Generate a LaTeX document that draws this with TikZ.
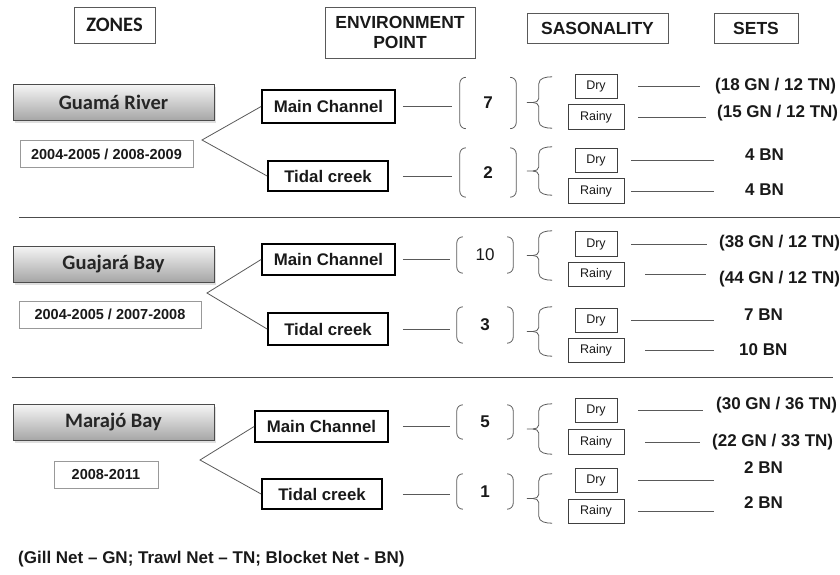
\documentclass[tikz,border=0pt]{standalone}
\usepackage{fontspec}
\setmainfont{Liberation Sans}
\newfontfamily\zonefont{Carlito}
\usetikzlibrary{shadows}
\newcommand\fs[1]{\fontsize{#1}{#1}\selectfont}
\newcommand\parpair[1]{%
  \draw[brk] ([xshift=6pt]#1.north west) to[out=180,in=90] ([yshift=-6pt]#1.north west) -- ([yshift=6pt]#1.south west) to[out=-90,in=180] ([xshift=6pt]#1.south west);
  \draw[brk] ([xshift=-6pt]#1.north east) to[out=0,in=90] ([yshift=-6pt]#1.north east) -- ([yshift=6pt]#1.south east) to[out=-90,in=0] ([xshift=-6pt]#1.south east);}
\newcommand\setbrace[1]{%
  \draw[brk] (#1.north east) to[out=180,in=90] ([xshift=12pt,yshift=-7pt]#1.north west) -- ([xshift=12pt,yshift=4pt]#1.west) to[out=-90,in=0] ([xshift=6pt]#1.west) -- (#1.west);
  \draw[brk] (#1.south east) to[out=180,in=-90] ([xshift=12pt,yshift=7pt]#1.south west) -- ([xshift=12pt,yshift=-4pt]#1.west) to[out=90,in=0] ([xshift=6pt]#1.west);}
\tikzset{
 hdr/.style={draw=black!65, line width=0.9pt, inner sep=0, font=\bfseries\fs{17.5}, text=black!90},
 zone/.style={draw=black!70, line width=0.8pt, top color=black!4, bottom color=black!35, minimum width=201pt, minimum height=36pt, inner sep=0, font=\zonefont\bfseries\fs{20.5}, text=black!85, drop shadow={shadow xshift=1.5pt, shadow yshift=-2.5pt, opacity=0.25}},
 dates/.style={draw=black!40, line width=0.7pt, minimum height=27pt, inner sep=0, font=\bfseries\fs{14.5}, text=black!90},
 env/.style={draw=black, line width=1.8pt, inner sep=0, font=\bfseries\fs{16.8}, text=black!90},
 num/.style={minimum width=56pt, inner sep=0, font=\bfseries\fs{17}, text=black!90},
 bracenode/.style={minimum width=25pt, inner sep=0},
 season/.style={draw=black!75, line width=0.8pt, minimum height=24.5pt, inner sep=0, font=\fs{12.5}, text=black!90},
 dry/.style={season, minimum width=42pt},
 rainy/.style={season, minimum width=56pt},
 setlbl/.style={anchor=west, inner sep=0, font=\bfseries\fs{17}, text=black!90},
 conn/.style={draw=black!65, line width=0.8pt},
 brk/.style={draw=black!65, line width=0.8pt},
 sep/.style={draw=black!70, line width=0.9pt},
}
\begin{document}
\begin{tikzpicture}[x=1pt,y=-1pt]
\useasboundingbox (0,0) rectangle (840,575);
% headers
\node[hdr, minimum width=81pt, minimum height=36pt, font=\zonefont\bfseries\fs{20.5}] (hz) at (114.5,25) {ZONES};
\node[hdr, minimum width=150pt, minimum height=51pt, align=center, font=\bfseries\fontsize{17.5}{20}\selectfont] (he) at (400,32.5) {ENVIRONMENT\\POINT};
\node[hdr, minimum width=141pt, minimum height=30pt] (hs) at (597.5,28) {SASONALITY};
\node[hdr, minimum width=84pt, minimum height=30pt] (ht) at (756,28) {SETS};

% ---------- zone 1
\node[zone] (Z1) at (113.5,102.5) {Guamá River};
\node[dates, minimum width=173pt] (D1) at (106.5,154) {2004-2005 / 2008-2009};
\coordinate (j1) at (202,140);
\node[env, minimum width=133pt, minimum height=33pt] (M1) at (328.5,106.5) {Main Channel};
\node[env, minimum width=120pt, minimum height=30pt] (T1) at (328,176) {Tidal creek};
\draw[conn] (M1.west) -- (j1) -- (T1.west);
\node[num, minimum height=51pt] (pm1) at (488,103) {7};
\node[num, minimum height=49pt] (pt1) at (488,172.5) {2};
\parpair{pm1}\parpair{pt1}
\draw[conn, shorten <=7pt, shorten >=8pt] (M1.east) -- (M1.east -| pm1.west);
\draw[conn, shorten <=14pt, shorten >=8pt] (T1.east) -- (T1.east -| pt1.west);
\node[bracenode, minimum height=51pt] (bm1) at (539.5,102.5) {};
\node[bracenode, minimum height=48pt] (bt1) at (539.5,171) {};
\setbrace{bm1}\setbrace{bt1}
\node[dry] (sd1) at (596,86.5) {Dry};
\node[rainy] (sr1) at (596,117) {Rainy};
\node[dry] (td1) at (596,160.5) {Dry};
\node[rainy] (tr1) at (596,191) {Rainy};
\node[setlbl] (L1a) at (715,86) {(18 GN / 12 TN)};
\node[setlbl] (L1b) at (717,113) {(15 GN / 12 TN)};
\node[setlbl] (L1c) at (745,155) {4 BN};
\node[setlbl] (L1d) at (745,190) {4 BN};
\draw[conn, shorten <=21pt, shorten >=15pt] (sd1.east) -- (sd1.east -| L1a.west);
\draw[conn, shorten <=14pt, shorten >=11pt] (sr1.east) -- (sr1.east -| L1b.west);
\draw[conn, shorten <=14pt, shorten >=31pt] (td1.east) -- (td1.east -| L1c.west);
\draw[conn, shorten <=7pt, shorten >=31pt] (tr1.east) -- (tr1.east -| L1d.west);

\draw[sep] (19,217) -- (840,217);

% ---------- zone 2
\node[zone] (Z2) at (113.5,264) {Guajará Bay};
\node[dates, minimum width=182pt] (D2) at (110,314.5) {2004-2005 / 2007-2008};
\coordinate (j2) at (207,293);
\node[env, minimum width=133pt, minimum height=31pt] (M2) at (328.5,259.5) {Main Channel};
\node[env, minimum width=120pt, minimum height=32pt] (T2) at (328,329) {Tidal creek};
\draw[conn] (M2.west) -- (j2) -- (T2.west);
\node[num, minimum height=36pt, font=\fs{17}] (pm2) at (485,255) {10};
\node[num, minimum height=36pt] (pt2) at (485,325) {3};
\parpair{pm2}\parpair{pt2}
\draw[conn, shorten <=7pt, shorten >=7pt] (M2.east) -- (M2.east -| pm2.west);
\draw[conn, shorten <=14pt, shorten >=7pt] (T2.east) -- (T2.east -| pt2.west);
\node[bracenode, minimum height=49pt] (bm2) at (539.5,255.5) {};
\node[bracenode, minimum height=49pt] (bt2) at (539.5,331.5) {};
\setbrace{bm2}\setbrace{bt2}
\node[dry] (sd2) at (596,244) {Dry};
\node[rainy] (sr2) at (596,274.5) {Rainy};
\node[dry] (td2) at (596,320.5) {Dry};
\node[rainy] (tr2) at (596,350.5) {Rainy};
\node[setlbl] (L2a) at (719,243) {(38 GN / 12 TN)};
\node[setlbl] (L2b) at (719,279) {(44 GN / 12 TN)};
\node[setlbl] (L2c) at (744,315) {7 BN};
\node[setlbl] (L2d) at (739,350) {10 BN};
\draw[conn, shorten <=14pt, shorten >=12pt] (sd2.east) -- (sd2.east -| L2a.west);
\draw[conn, shorten <=21pt, shorten >=13pt] (sr2.east) -- (sr2.east -| L2b.west);
\draw[conn, shorten <=14pt, shorten >=30pt] (td2.east) -- (td2.east -| L2c.west);
\draw[conn, shorten <=21pt, shorten >=25pt] (tr2.east) -- (tr2.east -| L2d.west);

\draw[sep] (12,377) -- (833,377);

% ---------- zone 3
\node[zone] (Z3) at (113.5,422.5) {Marajó Bay};
\node[dates, minimum width=104pt] (D3) at (106,474.5) {2008-2011};
\coordinate (j3) at (200,460);
\node[env, minimum width=133pt, minimum height=31pt] (M3) at (321.5,426.5) {Main Channel};
\node[env, minimum width=120pt, minimum height=30pt] (T3) at (322,494) {Tidal creek};
\draw[conn] (M3.west) -- (j3) -- (T3.west);
\node[num, minimum height=34pt] (pm3) at (485,422) {5};
\node[num, minimum height=35pt] (pt3) at (485,491.5) {1};
\parpair{pm3}\parpair{pt3}
\draw[conn, shorten <=14pt, shorten >=7pt] (M3.east) -- (M3.east -| pm3.west);
\draw[conn, shorten <=20pt, shorten >=7pt] (T3.east) -- (T3.east -| pt3.west);
\node[bracenode, minimum height=50pt] (bm3) at (539.5,429) {};
\node[bracenode, minimum height=49pt] (bt3) at (539.5,498.5) {};
\setbrace{bm3}\setbrace{bt3}
\node[dry] (sd3) at (596,410.5) {Dry};
\node[rainy] (sr3) at (596,442) {Rainy};
\node[dry] (td3) at (596,480.5) {Dry};
\node[rainy] (tr3) at (596,511.5) {Rainy};
\node[setlbl] (L3a) at (716,405) {(30 GN / 36 TN)};
\node[setlbl] (L3b) at (712,442) {(22 GN / 33 TN)};
\node[setlbl] (L3c) at (744,468) {2 BN};
\node[setlbl] (L3d) at (744,503) {2 BN};
\draw[conn, shorten <=21pt, shorten >=13pt] (sd3.east) -- (sd3.east -| L3a.west);
\draw[conn, shorten <=21pt, shorten >=12pt] (sr3.east) -- (sr3.east -| L3b.west);
\draw[conn, shorten <=21pt, shorten >=30pt] (td3.east) -- (td3.east -| L3c.west);
\draw[conn, shorten <=14pt, shorten >=30pt] (tr3.east) -- (tr3.east -| L3d.west);

% footer
\node[anchor=west, inner sep=0, font=\bfseries\fs{17}, text=black!90] (foot) at (18,559) {(Gill Net – GN; Trawl Net – TN; Blocket Net - BN)};
\end{tikzpicture}
\end{document}
